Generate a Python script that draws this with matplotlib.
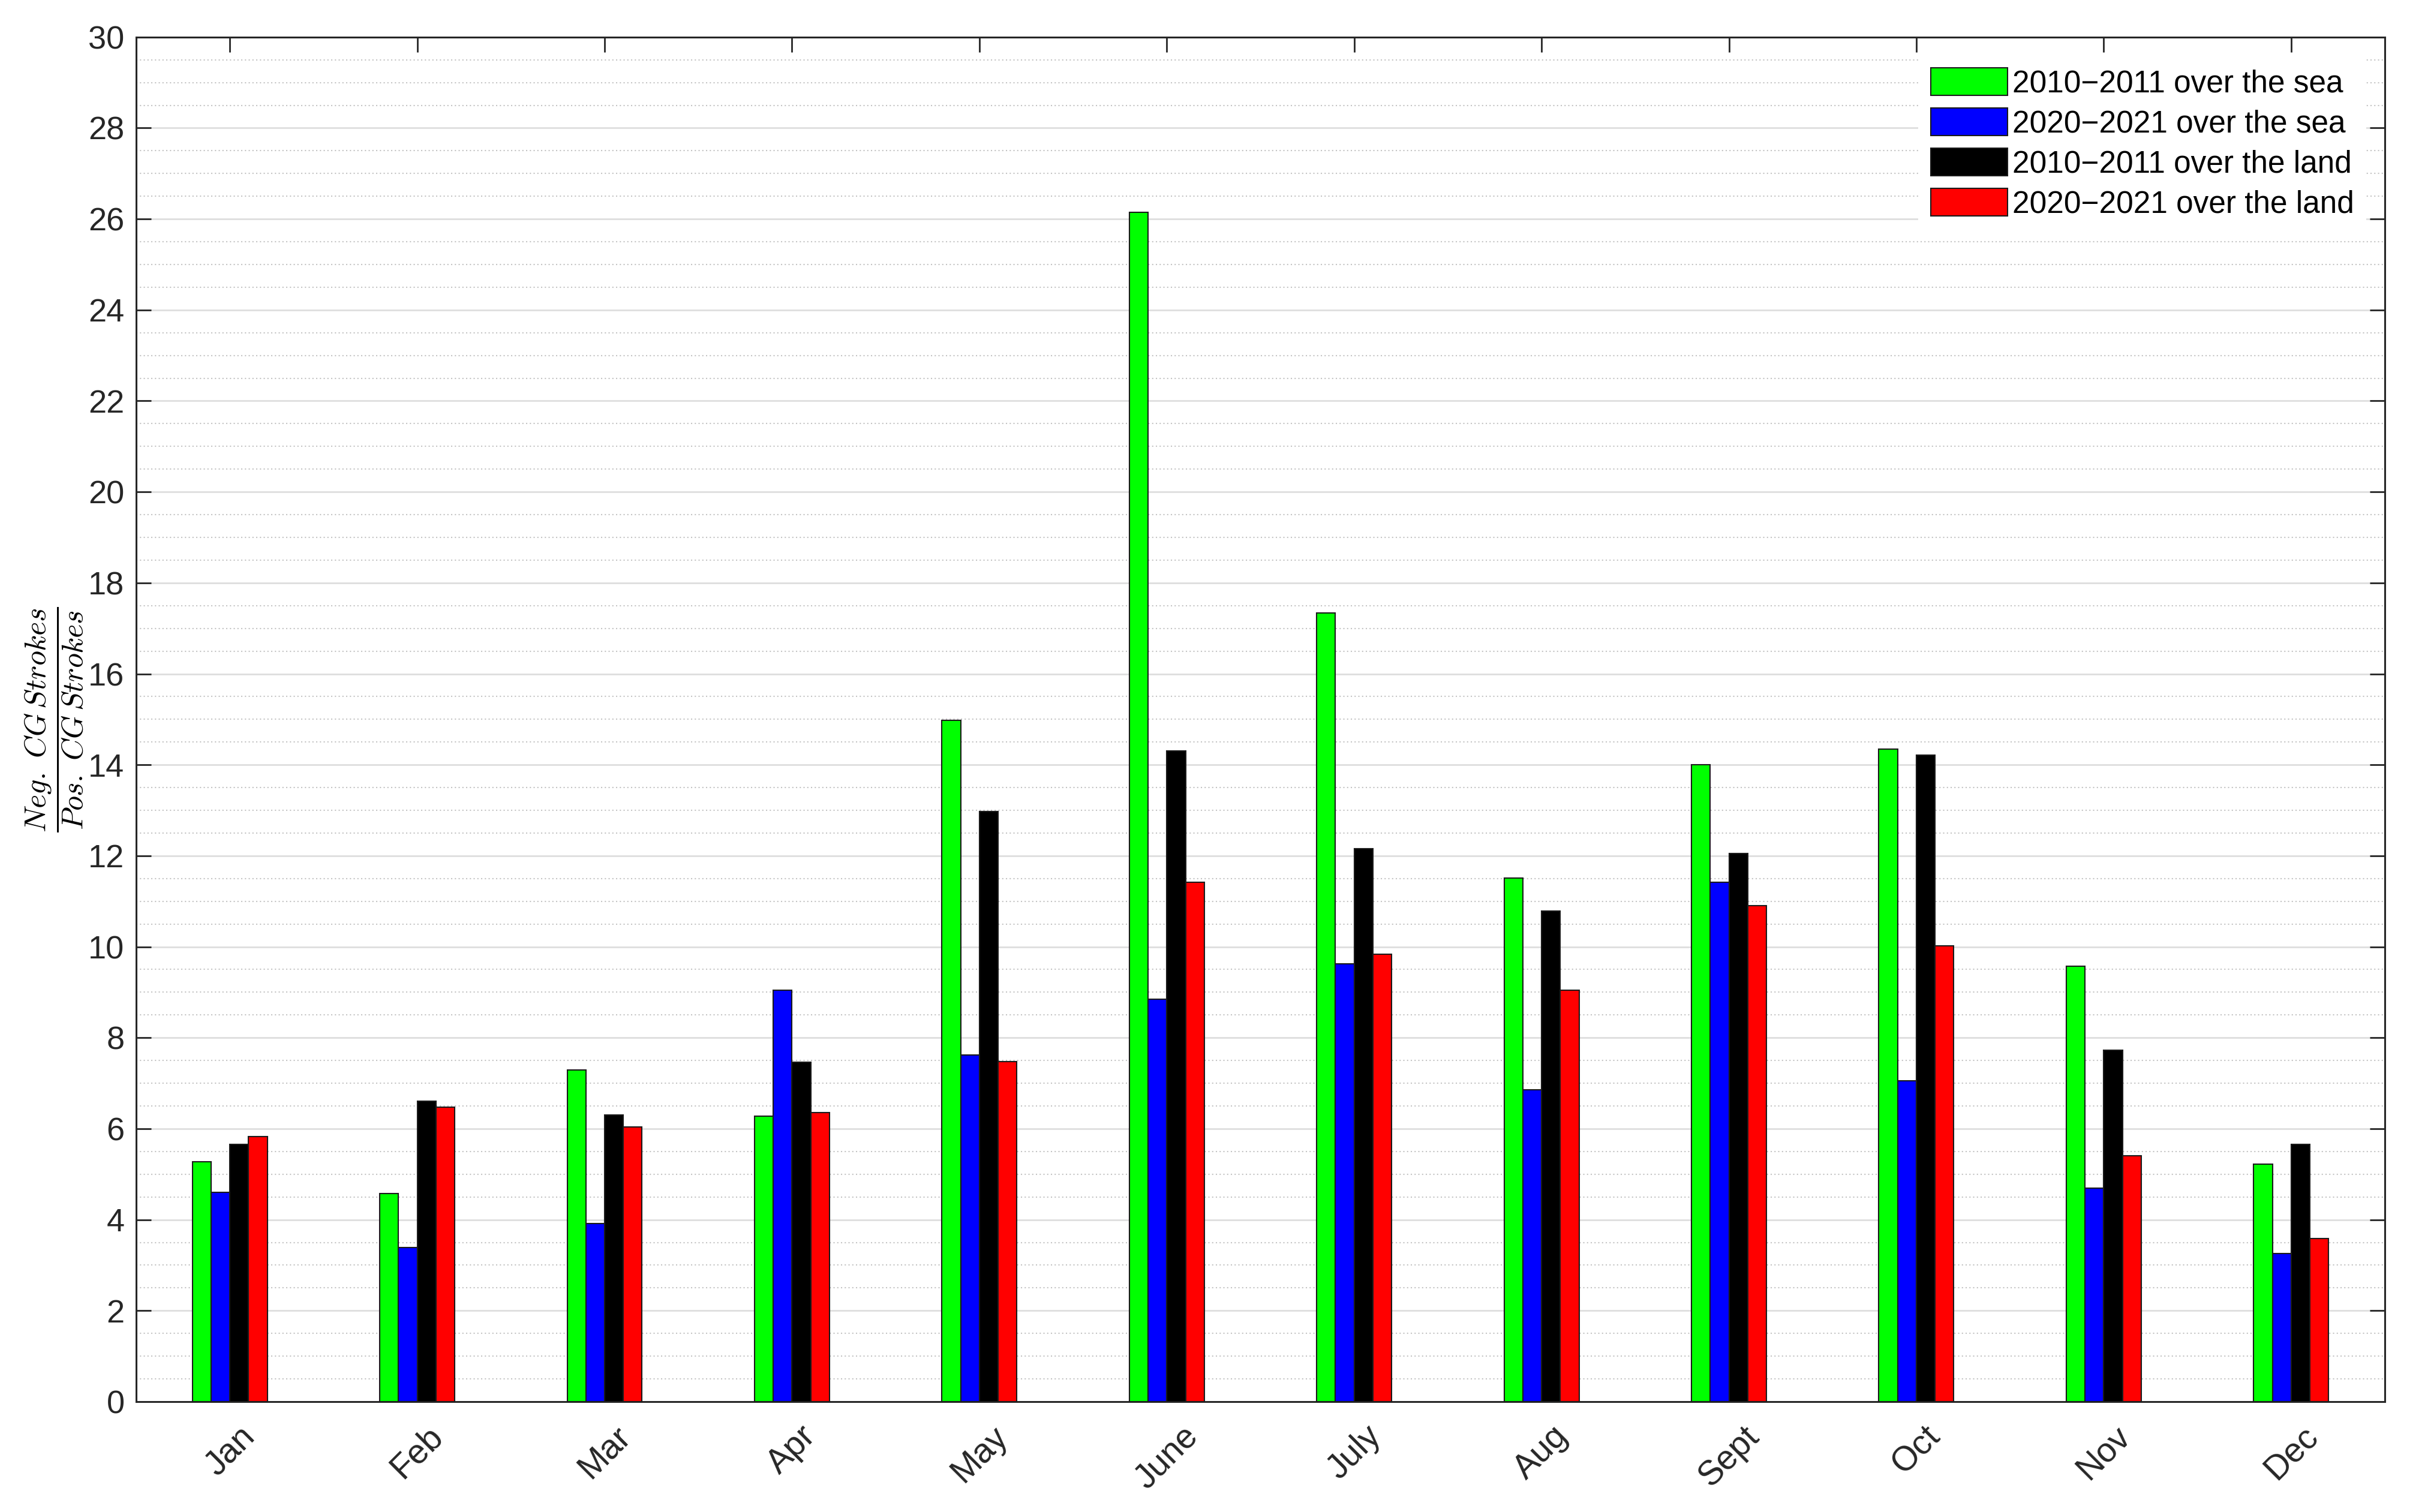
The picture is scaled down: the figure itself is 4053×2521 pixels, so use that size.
import matplotlib
matplotlib.use("Agg")
import matplotlib.pyplot as plt
import numpy as np
from matplotlib.ticker import MultipleLocator

months = ["Jan", "Feb", "Mar", "Apr", "May", "June", "July", "Aug", "Sept", "Oct", "Nov", "Dec"]

sea_2010 = [5.28, 4.57, 7.29, 6.27, 14.98, 26.15, 17.34, 11.51, 14.00, 14.35, 9.57, 5.22]
sea_2020 = [4.60, 3.39, 3.91, 9.05, 7.62, 8.85, 9.63, 6.85, 11.42, 7.05, 4.70, 3.26]
land_2010 = [5.66, 6.61, 6.30, 7.46, 12.97, 14.31, 12.16, 10.79, 12.05, 14.21, 7.73, 5.65]
land_2020 = [5.83, 6.48, 6.04, 6.36, 7.48, 11.42, 9.84, 9.04, 10.91, 10.02, 5.41, 3.58]

labels = ["2010\u22122011 over the sea", "2020\u22122021 over the sea",
          "2010\u22122011 over the land", "2020\u22122021 over the land"]
colors = ["#00ff00", "#0000ff", "#000000", "#ff0000"]

plt.rcParams['font.family'] = ['Liberation Sans', 'DejaVu Sans']
plt.rcParams['mathtext.fontset'] = 'cm'

fig = plt.figure(figsize=(40.53, 25.21), dpi=100)
ax = fig.add_axes([0.056, 0.073, 0.925, 0.9025])

x = np.arange(1, 13)
w = 0.1
series = [sea_2010, sea_2020, land_2010, land_2020]
for i, vals in enumerate(series):
    ax.bar(x + (i - 1.5) * w, vals, width=w, color=colors[i], edgecolor="#1a1a1a",
           linewidth=1.5, label=labels[i], zorder=3)

ax.set_xlim(0.5, 12.5)
ax.set_ylim(0, 30)
ax.yaxis.set_major_locator(MultipleLocator(2))
ax.yaxis.set_minor_locator(MultipleLocator(0.5))
ax.set_xticks(x)
ax.set_xticklabels(months, rotation=45, ha="center", va="top")

ax.grid(axis="y", which="major", color="#dedede", linewidth=2, linestyle="-", zorder=0)
ax.grid(axis="y", which="minor", color="#c4c4c4", linewidth=1.5, linestyle=(0, (1, 2)), zorder=0)
ax.set_axisbelow(True)

ax.tick_params(axis="both", which="major", direction="in", length=18, width=2,
               top=True, right=True, labelsize=39, colors="#262626", pad=14)
ax.tick_params(axis="x", which="major", labelsize=41, pad=22)
ax.tick_params(axis="y", which="minor", length=0)
for s in ax.spines.values():
    s.set_color("#262626")
    s.set_linewidth(2.2)

ax.set_ylabel(r"$\dfrac{Neg.\ CG\,Strokes}{Pos.\ CG\,Strokes}$", fontsize=36, labelpad=4)

leg = ax.legend(loc="upper right", fontsize=37, frameon=True, fancybox=False,
                edgecolor="white", facecolor="white", framealpha=1,
                handlelength=2.5, handleheight=1.0, handletextpad=0.15,
                labelspacing=0.3, borderaxespad=0.6)
leg.get_frame().set_linewidth(0)
for t in leg.get_texts():
    t.set_family(['Liberation Sans Narrow', 'Liberation Sans', 'DejaVu Sans'])

fig.savefig("out.png", dpi=100)
